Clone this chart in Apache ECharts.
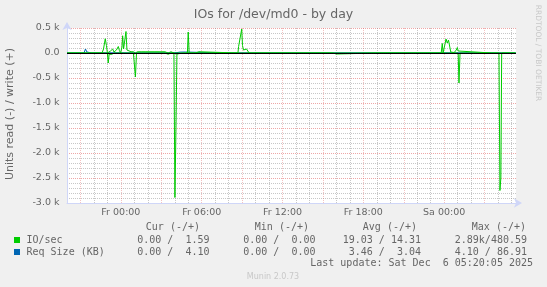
<!DOCTYPE html>
<html>
<head>
<meta charset="utf-8">
<script src="https://cdn.jsdelivr.net/npm/echarts@6/dist/echarts.min.js"></script>
<style>
html,body{margin:0;padding:0;background:#F0F0F0;}
#chart{width:547px;height:287px;}
</style>
</head>
<body>
<div id="chart"></div>
<script>
// ---- data (time in hours since Thursday 00:00) ----
const xStart = 20;
const xEnd = 20 + 400 * 5 / 60; // Sat 05:20
const hourGridLines = [22,23,25,26,28,29,31,32,34,35,37,38,40,41,43,44,46,47,49,50,52,53];
const majorGridLines = [21,24,27,30,33,36,39,42,45,48,51];
const labelHours = [24,30,36,42,48];

const ioTimes = [20.00,22.60,22.71,22.84,22.93,23.00,23.06,23.13,23.23,23.30,23.39,23.49,23.56,23.67,23.81,23.89,23.98,24.08,24.13,24.20,24.28,24.38,24.45,24.53,24.75,24.93,25.01,25.08,25.16,25.23,25.56,25.86,26.16,26.53,26.90,27.27,27.51,27.72,27.94,28.01,28.09,28.16,28.38,28.94,29.00,29.07,29.53,29.64,29.79,29.87,32.69,32.74,32.88,32.97,33.03,33.10,33.20,33.33,33.45,33.52,33.58,33.65,37.58,37.62,37.66,39.73,39.81,39.99,40.06,42.92,43.00,43.07,47.78,47.86,47.92,47.99,48.04,48.14,48.23,48.32,48.39,48.49,48.73,48.88,48.98,49.04,49.10,49.18,51.53,51.56,51.60,52.07,52.14,52.21,52.27,53.31];
const ioWrite = [0,0,80,285,150,0,0,0,40,0,80,20,0,60,130,50,0,120,345,80,100,430,60,25,25,25,0,0,0,25,25,25,25,25,25,25,0,25,0,0,0,0,0,0,420,0,0,30,25,0,0,130,120,480,150,60,40,80,40,0,0,0,0,0,0,0,0,0,0,0,0,0,0,190,0,20,0,280,200,260,240,20,10,50,110,40,0,0,0,0,0,0,0,0,0,0];
const ioRead  = [0,0,0,0,0,0,200,20,0,30,0,0,40,0,0,0,10,0,0,0,0,0,0,0,0,0,0,480,0,0,0,0,0,0,0,0,25,0,0,2890,1500,20,10,0,0,0,0,0,0,0,0,0,0,0,0,0,0,0,0,0,20,0,0,20,0,0,20,20,0,0,20,0,0,0,20,0,10,0,0,0,0,0,0,0,0,0,600,0,0,20,0,0,2750,2500,0,0];

const reqTimes = [20.00,21.26,21.37,21.48,21.56,21.85,21.91,21.96,27.94,28.00,28.40,28.78,28.82,31.64,31.67,31.72,53.31];
const reqWrite = [0,0,80,20,0,0,25,0,0,20,18,20,0,0,25,0,0];
const reqRead  = [0,0,0,0,0,0,0,0,0,4,4,0,0,0,0,0,0];

const legendRows = [
  {name:'IO/sec',        color:'#00CC00', cur:'0.00 /  1.59', min:'0.00 /  0.00', avg:'19.03 / 14.31', max:'2.89k/480.59'},
  {name:'Req Size (KB)', color:'#0066B3', cur:'0.00 /  4.10', min:'0.00 /  0.00', avg:'3.46 /  3.04',  max:'4.10 / 86.91'}
];

// ---- build ----
const pairs = (ts, vs, sign) => ts.map((t, i) => [t, sign * vs[i]]);
const dayName = h => (h < 48 ? 'Fr ' : 'Sa ');
const fmtHour = h => dayName(h) + String(h % 24).padStart(2, '0') + ':00';

const FONT = '"DejaVu Sans", sans-serif';
const MONO = '"DejaVu Sans Mono", monospace';
const TXT = '#666666';
const AXIS = '#CFD6F8';

function lineSeries(name, data, color) {
  return {
    name, type: 'line', data, xAxisIndex: 0, yAxisIndex: 0,
    showSymbol: false, symbol: 'none', silent: true,
    lineStyle: {color, width: 1}, itemStyle: {color},
    animation: false
  };
}

const series = [
  lineSeries('Req Size read', pairs(reqTimes, reqRead, -1), '#0066B3'),
  lineSeries('Req Size write', pairs(reqTimes, reqWrite, 1), '#0066B3'),
  lineSeries('IO/sec read', pairs(ioTimes, ioRead, -1), '#00CC00'),
  lineSeries('IO/sec write', pairs(ioTimes, ioWrite, 1), '#00CC00')
];
series[3].markLine = {
  silent: true, symbol: ['none','none'], animation: false,
  label: {show: false},
  lineStyle: {color: '#000000', width: 1, type: 'solid'},
  data: [{yAxis: 0}]
};

const graphics = [];
function txt(text, x, y, opts) {
  graphics.push(Object.assign({
    type: 'text', x, y, silent: true,
    style: Object.assign({
      text, fill: TXT, font: '10px ' + MONO,
      textAlign: 'left', textVerticalAlign: 'middle',
      align: 'left', verticalAlign: 'middle'
    }, opts.style || {})
  }, opts.el || {}));
}
// title
txt('IOs for /dev/md0 - by day', 273.5, 14.5, {style:{font:'12.5px ' + FONT, textAlign:'center', align:'center'}});
// y axis name
txt('Units read (-) / write (+)', 10, 114, {el:{rotation: Math.PI/2}, style:{font:'11px ' + FONT, textAlign:'center', align:'center'}});
// rrdtool watermark
txt('RRDTOOL / TOBI OETIKER', 537.5, 53, {el:{rotation: -Math.PI/2}, style:{font:'7.5px ' + FONT, fill:'#C8C8C8', textAlign:'center', align:'center'}});
// legend header
const colRight = [209.5, 315.5, 421, 527];
const headers = ['Cur (-/+)', 'Min (-/+)', 'Avg (-/+)', 'Max (-/+)'];
const headerRight = [200, 309, 417, 526];
headers.forEach((h, i) => txt(h, headerRight[i], 227.5, {style:{textAlign:'right', align:'right'}}));
legendRows.forEach((r, k) => {
  const y = 240 + k * 12;
  graphics.push({type:'rect', silent:true, shape:{x:14, y:y-3, width:6, height:6}, style:{fill:r.color}});
  txt(r.name, 26.5, y, {});
  [r.cur, r.min, r.avg, r.max].forEach((v, i) => txt(v, colRight[i], y, {style:{textAlign:'right', align:'right'}}));
});
txt('Last update: Sat Dec  6 05:20:05 2025', 533, 263.5, {style:{textAlign:'right', align:'right'}});
txt('Munin 2.0.73', 273, 276.5, {style:{font:'8px ' + FONT, fill:'#C8C8C8', textAlign:'center', align:'center'}});

const gridLineGray = {show: true, lineStyle: {color: 'rgba(143,143,143,0.5)', width: 1, type: [1, 1]}};
const gridLineRed = {show: true, lineStyle: {color: 'rgba(222,79,79,0.5)', width: 1, type: [1, 1]}};
const gridLineRedV = {show: true, lineStyle: {color: 'rgba(222,79,79,0.35)', width: 1, type: [1, 1]}};

const option = {
  backgroundColor: '#F0F0F0',
  animation: false,
  textStyle: {fontFamily: FONT},
  grid: {left: 67, right: 31, top: 28, bottom: 84, show: true, backgroundColor: '#FFFFFF', borderWidth: 0},
  xAxis: [
    {
      type: 'value', min: xStart, max: xEnd, position: 'bottom',
      axisLine: {show: false},
      axisTick: {show: false, customValues: hourGridLines},
      axisLabel: {show: false},
      splitLine: gridLineGray
    },
    {
      type: 'value', min: xStart, max: xEnd, position: 'bottom',
      axisLine: {show: true, onZero: false, lineStyle: {color: AXIS, width: 1}, symbol: ['none', 'arrow'], symbolSize: [7, 8], symbolOffset: [0, 6]},
      axisTick: {show: false, customValues: majorGridLines},
      axisLabel: {show: true, customValues: labelHours, formatter: v => fmtHour(v), color: TXT, fontSize: 9.5, fontFamily: FONT, margin: 5},
      splitLine: gridLineRedV
    }
  ],
  yAxis: [{
    type: 'value', min: -3000, max: 500, interval: 500,
    axisLine: {show: true, lineStyle: {color: AXIS, width: 1}, symbol: ['none', 'arrow'], symbolSize: [7, 8], symbolOffset: [0, 6]},
    axisTick: {show: false},
    axisLabel: {color: TXT, fontSize: 9.5, fontFamily: FONT, margin: 7.5,
      formatter: v => (v === 0 ? '0.0' : (v / 1000).toFixed(1) + ' k')},
    splitLine: gridLineRed,
    minorTick: {show: false, splitNumber: 5},
    minorSplitLine: gridLineGray
  }],
  series,
  graphic: {elements: graphics}
};

const chart = echarts.init(document.getElementById('chart'), null, {renderer: 'canvas'});
chart.setOption(option);
</script>
</body>
</html>
